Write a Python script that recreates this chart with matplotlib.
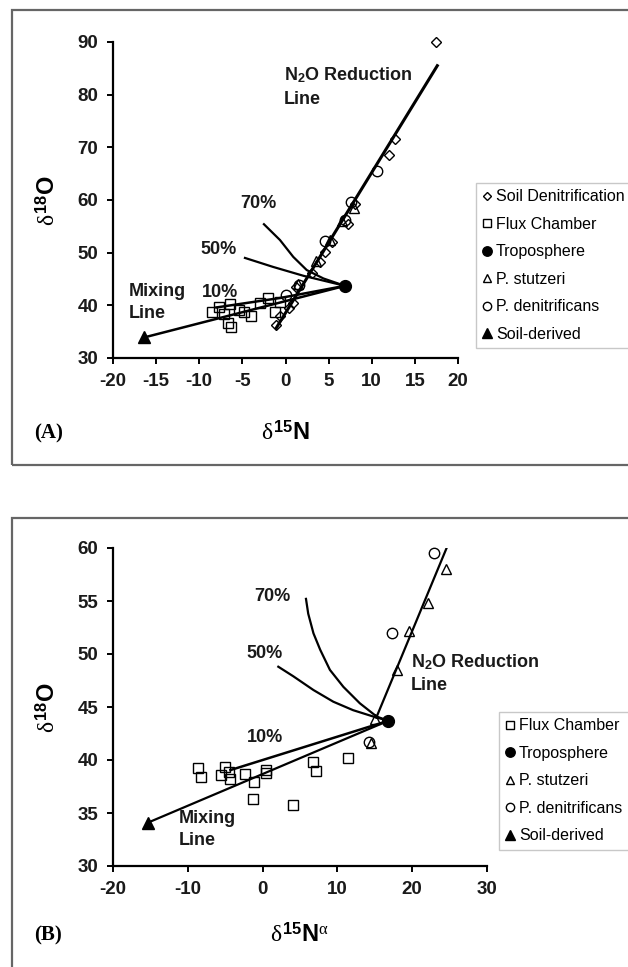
import matplotlib
matplotlib.use("Agg")
import matplotlib.pyplot as plt
from matplotlib.patches import Rectangle

plt.rcParams['font.family'] = ['Liberation Sans', 'DejaVu Sans']
plt.rcParams['axes.unicode_minus'] = False
plt.rcParams['mathtext.fontset'] = 'custom'
plt.rcParams['mathtext.rm'] = 'Liberation Serif'
plt.rcParams['mathtext.it'] = 'Liberation Serif'
plt.rcParams['mathtext.bf'] = 'Liberation Sans:bold'

# ---- panel A : d15N (bulk) vs d18O ----
a_soil_x = [17.5, 12.65, 11.95, 8.1, 7.3, 5.4, 4.6, 4.05, 3.1, 1.25, 0.9, 0.4, -0.6, -1.07]
a_soil_y = [90.0, 71.5, 68.5, 59.2, 55.5, 52.1, 50.2, 48.3, 46.1, 43.5, 40.4, 39.5, 37.9, 36.3]
a_flux_x = [-8.5, -7.7, -6.4, -7.1, -6.7, -6.3, -5.35, -4.8, -3.95, -2.9, -2.0, -1.26, -0.6]
a_flux_y = [38.7, 39.7, 40.3, 38.3, 36.6, 35.8, 39.2, 38.8, 37.9, 40.4, 41.4, 38.8, 40.7]
a_stut_x = [1.5, 3.5, 5.2, 6.6, 7.9]
a_stut_y = [44.0, 48.5, 52.5, 56.0, 58.5]
a_deni_x = [10.65, 7.6, 6.9, 4.6, 1.6, 0.05]
a_deni_y = [65.6, 59.7, 56.2, 52.3, 43.9, 42.0]
a_tropo = (6.9, 43.7)
a_source = (-16.4, 33.9)
a_reduct_x = [-1.07, 17.6]
a_reduct_y = [35.7, 85.5]
a_c70_x = [-2.5, -0.64, 0.9, 2.46, 4.4, 6.9]
a_c70_y = [55.4, 52.4, 49.2, 46.7, 45.1, 43.7]
a_c50_x = [-4.7, -1.45, 2.1, 6.9]
a_c50_y = [49.0, 47.3, 45.6, 43.7]
a_c10_x = [-8.0, -0.6, 6.9]
a_c10_y = [39.6, 41.4, 43.7]

# ---- panel B : d15N-alpha vs d18O ----
b_flux_x = [-8.6, -8.3, -5.5, -5.0, -4.55, -4.4, -2.3, -1.2, -1.3, 0.4, 0.5, 4.0, 6.75, 7.2, 11.4]
b_flux_y = [39.2, 38.4, 38.6, 39.3, 38.9, 38.2, 38.7, 37.9, 36.3, 38.8, 39.05, 35.8, 39.8, 39.0, 40.2]
b_stut_x = [24.5, 22.1, 19.6, 18.0, 14.5, 15.0]
b_stut_y = [58.0, 54.8, 52.2, 48.5, 41.6, 43.9]
b_deni_x = [22.9, 17.3, 14.2]
b_deni_y = [59.5, 52.0, 41.7]
b_tropo = (16.8, 43.7)
b_source = (-15.3, 34.1)
b_reduct_x = [15.2, 24.6]
b_reduct_y = [44.0, 60.0]
b_c70_x = [5.8, 6.1, 6.8, 7.7, 9.0, 10.8, 13.0, 15.25, 16.8]
b_c70_y = [55.2, 53.8, 51.95, 50.4, 48.5, 46.9, 45.35, 44.1, 43.7]
b_c50_x = [2.1, 4.1, 6.8, 9.45, 12.1, 14.8, 16.8]
b_c50_y = [48.8, 47.9, 46.6, 45.5, 44.7, 44.1, 43.7]
b_c10_x = [-4.3, 16.8]
b_c10_y = [39.05, 43.7]

W, H = 628, 967
fig = plt.figure(figsize=(W / 100, H / 100), dpi=100)


def px_box(left, top, right, bottom):
    return [left / W, 1 - bottom / H, (right - left) / W, (bottom - top) / H]


def frame(top, bottom):
    r = Rectangle((12 / W, 1 - bottom / H), 1.2, (bottom - top) / H,
                  transform=fig.transFigure, fill=False, edgecolor='#666666',
                  linewidth=1.6, clip_on=False)
    fig.add_artist(r)


def style_axes(ax):
    for s in ['top', 'right']:
        ax.spines[s].set_visible(False)
    for s in ['left', 'bottom']:
        ax.spines[s].set_linewidth(1.6)
    ax.tick_params(direction='out', length=4.5, width=1.4, labelsize=13.5, pad=6)
    for lab in ax.get_xticklabels() + ax.get_yticklabels():
        lab.set_fontweight('bold')
        lab.set_color('#1a1a1a')


def draw_marks(ax, soil, flux, stut, deni, tropo, source):
    hand = []
    if soil is not None:
        hand.append(ax.plot(soil[0], soil[1], 'D', ms=5.5, mfc='none', mec='k', mew=1,
                            ls='none', label='Soil Denitrification', zorder=4,
                            clip_on=False)[0])
    hand.append(ax.plot(flux[0], flux[1], 's', ms=7, mfc='none', mec='k', mew=1,
                        ls='none', label='Flux Chamber', zorder=4)[0])
    hand.append(ax.plot([tropo[0]], [tropo[1]], 'o', ms=8.5, color='k', ls='none',
                        label='Troposphere', zorder=5)[0])
    hand.append(ax.plot(stut[0], stut[1], '^', ms=7, mfc='none', mec='k', mew=1,
                        ls='none', label='P. stutzeri', zorder=4)[0])
    hand.append(ax.plot(deni[0], deni[1], 'o', ms=7.5, mfc='none', mec='k', mew=1,
                        ls='none', label='P. denitrificans', zorder=4, clip_on=False)[0])
    hand.append(ax.plot([source[0]], [source[1]], '^', ms=9, color='k', ls='none',
                        label='Soil-derived', zorder=5)[0])
    return hand


def add_legend(handles, left, top):
    fig.legend(handles=handles, loc='upper left', bbox_to_anchor=(left / W, 1 - top / H),
               fontsize=11.5, frameon=True, fancybox=False, edgecolor='#bbbbbb',
               handlelength=0.6, handletextpad=0.25, labelspacing=0.78, borderpad=0.4,
               borderaxespad=0, markerscale=0.8)


bold = dict(fontweight='bold', fontsize=13, color='#1a1a1a', va='center')

# ================= panel A =================
frame(10, 465)
axA = fig.add_axes(px_box(113, 42, 458, 358))
axA.plot(a_reduct_x, a_reduct_y, color='k', lw=2.2)
axA.plot([a_source[0], a_tropo[0]], [a_source[1], a_tropo[1]], color='k', lw=1.8)
axA.plot(a_c70_x, a_c70_y, color='k', lw=1.6)
axA.plot(a_c50_x, a_c50_y, color='k', lw=1.6)
axA.plot(a_c10_x, a_c10_y, color='k', lw=1.8)
hA = draw_marks(axA, (a_soil_x, a_soil_y), (a_flux_x, a_flux_y), (a_stut_x, a_stut_y),
                (a_deni_x, a_deni_y), a_tropo, a_source)
axA.set_xlim(-20, 20)
axA.set_ylim(30, 90)
axA.set_xticks(range(-20, 21, 5))
axA.set_yticks(range(30, 91, 10))
style_axes(axA)
axA.set_xlabel(r'$\delta^{\mathbf{15}}\mathbf{N}$', fontsize=17)
axA.xaxis.set_label_coords(0.5, -0.2)
axA.set_ylabel(r'$\delta^{\mathbf{18}}\mathbf{O}$', fontsize=17)
axA.yaxis.set_label_coords(-0.155, 0.5)
axA.text(-0.2, 83.7, r'N$_\mathbf{2}$O Reduction', **bold)
axA.text(-0.2, 79.0, 'Line', **bold)
axA.text(-5.3, 59.4, '70%', **bold)
axA.text(-9.9, 50.6, '50%', **bold)
axA.text(-9.7, 42.4, '10%', **bold)
axA.text(-18.2, 42.6, 'Mixing', **bold)
axA.text(-18.2, 38.5, 'Line', **bold)
fig.text(34 / W, 1 - 433 / H, '(A)', family='Liberation Serif', fontweight='bold',
         fontsize=15, va='center')
add_legend(hA, 476, 183)

# ================= panel B =================
frame(518, 1100)
axB = fig.add_axes(px_box(113, 548, 487, 866))
axB.plot(b_reduct_x, b_reduct_y, color='k', lw=1.6)
axB.plot([b_source[0], b_tropo[0]], [b_source[1], b_tropo[1]], color='k', lw=1.6)
axB.plot(b_c70_x, b_c70_y, color='k', lw=1.6)
axB.plot(b_c50_x, b_c50_y, color='k', lw=1.6)
axB.plot(b_c10_x, b_c10_y, color='k', lw=1.8)
hB = draw_marks(axB, None, (b_flux_x, b_flux_y), (b_stut_x, b_stut_y),
                (b_deni_x, b_deni_y), b_tropo, b_source)
axB.set_xlim(-20, 30)
axB.set_ylim(30, 60)
axB.set_xticks(range(-20, 31, 10))
axB.set_yticks(range(30, 61, 5))
style_axes(axB)
axB.set_xlabel(r'$\delta^{\mathbf{15}}\mathbf{N}^{\alpha}$', fontsize=17)
axB.xaxis.set_label_coords(0.5, -0.18)
axB.set_ylabel(r'$\delta^{\mathbf{18}}\mathbf{O}$', fontsize=17)
axB.yaxis.set_label_coords(-0.142, 0.5)
axB.text(19.8, 49.2, r'N$_\mathbf{2}$O Reduction', **bold)
axB.text(19.8, 47.0, 'Line', **bold)
axB.text(-1.1, 55.4, '70%', **bold)
axB.text(-2.1, 50.0, '50%', **bold)
axB.text(-2.1, 42.1, '10%', **bold)
axB.text(-11.25, 34.5, 'Mixing', **bold)
axB.text(-11.25, 32.4, 'Line', **bold)
fig.text(34 / W, 1 - 935 / H, '(B)', family='Liberation Serif', fontweight='bold',
         fontsize=15, va='center')
add_legend(hB, 499, 712)

fig.savefig('out.png', dpi=100)
